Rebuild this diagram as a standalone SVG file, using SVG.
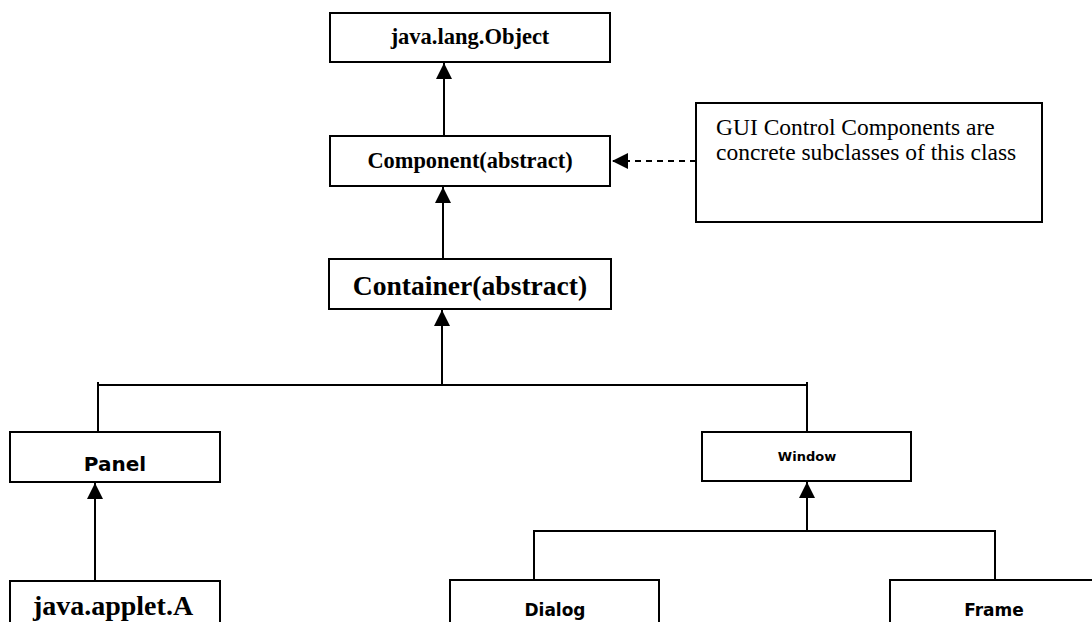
<svg xmlns="http://www.w3.org/2000/svg" width="1092" height="622" viewBox="0 0 1092 622">
<style>
.box{fill:#fff;stroke:#000;stroke-width:2}
.ln{fill:none;stroke:#000;stroke-width:2}
.dash{fill:none;stroke:#000;stroke-width:2;stroke-dasharray:6 5}
.serif{font-family:"Liberation Serif","Times New Roman",serif;font-weight:bold;fill:#000;text-anchor:middle}
.note{font-family:"Liberation Serif","Times New Roman",serif;font-size:23.5px;fill:#000}
.comic{font-family:"Comic Sans MS","DejaVu Sans",sans-serif;font-weight:bold;fill:#000;text-anchor:middle}
</style>
<defs>
<marker id="arr" markerUnits="userSpaceOnUse" markerWidth="16" markerHeight="16" viewBox="0 0 15 15" refX="15" refY="7.5" orient="auto">
<path d="M0,0 L15,7.5 L0,15 Z" fill="#000"/>
</marker>
</defs>
<rect width="1092" height="622" fill="#fff"/>
<g id="connectors">
<line class="ln" x1="444" y1="136" x2="444" y2="63" marker-end="url(#arr)"/>
<line class="ln" x1="443" y1="259" x2="443" y2="187" marker-end="url(#arr)"/>
<line class="ln" x1="442" y1="385" x2="442" y2="310" marker-end="url(#arr)"/>
<line class="ln" x1="98" y1="385" x2="807" y2="385"/>
<line class="ln" x1="98" y1="382" x2="98" y2="432"/>
<line class="ln" x1="807" y1="382" x2="807" y2="432"/>
<line class="ln" x1="95" y1="581" x2="95" y2="483" marker-end="url(#arr)"/>
<line class="ln" x1="807" y1="531" x2="807" y2="482" marker-end="url(#arr)"/>
<polyline class="ln" points="534,580 534,531 995,531 995,580"/>
<line class="dash" x1="696" y1="161" x2="612" y2="161" marker-end="url(#arr)"/>
</g>
<g id="object">
<rect class="box" x="330" y="13" width="280" height="49"/>
<text class="serif" x="470" y="44" font-size="22.5">java.lang.Object</text>
</g>
<g id="component">
<rect class="box" x="330" y="136" width="280" height="50"/>
<text class="serif" x="470" y="168" font-size="22.4">Component(abstract)</text>
</g>
<g id="note">
<rect class="box" x="696" y="103" width="346" height="119"/>
<text class="note" x="716" y="135">GUI Control Components are</text>
<text class="note" x="716" y="160">concrete subclasses of this class</text>
</g>
<g id="container">
<rect class="box" x="329" y="259" width="282" height="50"/>
<text class="serif" x="470" y="295" font-size="27.6">Container(abstract)</text>
</g>
<g id="panel">
<rect class="box" x="10" y="432" width="210" height="50"/>
<text class="comic" x="115" y="471" font-size="20">Panel</text>
</g>
<g id="window">
<rect class="box" x="702" y="432" width="209" height="49"/>
<text class="comic" x="807" y="461" font-size="13">Window</text>
</g>
<g id="applet">
<rect class="box" x="10" y="581" width="210" height="60"/>
<text class="serif" x="113" y="615" font-size="28">java.applet.A</text>
</g>
<g id="dialog">
<rect class="box" x="450" y="580" width="209" height="60"/>
<text class="comic" x="555" y="616" font-size="17">Dialog</text>
</g>
<g id="frame">
<rect class="box" x="890" y="580" width="209" height="60"/>
<text class="comic" x="994" y="616" font-size="17">Frame</text>
</g>
</svg>
